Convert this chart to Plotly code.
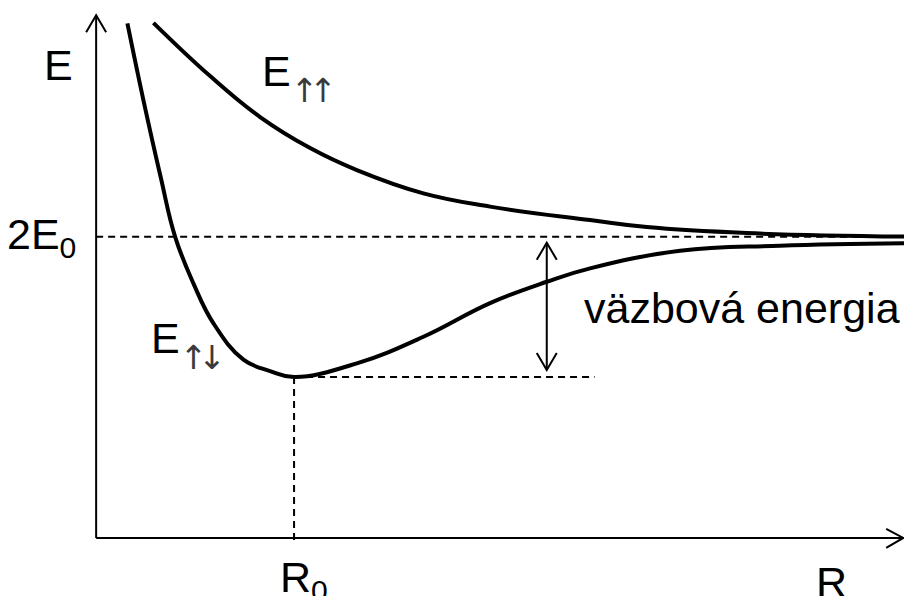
import plotly.graph_objects as go

# Potential energy of two atoms vs. separation R (arbitrary units)
r_bond = [0.387, 0.585, 0.798, 0.978, 1.204, 1.452, 1.823, 2.153, 2.450,
          3.227, 4.051, 4.876, 5.578, 6.114, 7.228, 8.465, 10.0]
e_bond = [9.841, 8.375, 6.908, 5.761, 4.870, 4.105, 3.413, 3.193, 3.078,
          3.340, 3.849, 4.493, 4.901, 5.157, 5.493, 5.589, 5.635]

r_anti = [0.709, 1.411, 2.030, 2.649, 3.227, 4.051, 4.876, 6.114, 6.816, 8.053, 10.0]
e_anti = [9.853, 8.834, 8.050, 7.457, 7.036, 6.591, 6.338, 6.080, 5.946, 5.832, 5.765]

r0 = 2.450          # equilibrium separation
e_min = 3.078       # energy at the minimum
e_level = 5.761     # 2E0, separated atoms
r_arrow = 5.578     # where the binding-energy arrow is drawn
r_dash_end = 6.17   # end of the dashed line at the minimum
r_max = 10.0
e_max = 10.0

FONT = "Liberation Sans, Arial, sans-serif"
ARROW_FONT = "DejaVu Sans"
BLACK = "#000000"

fig = go.Figure()
for r, e in ((r_bond, e_bond), (r_anti, e_anti)):
    fig.add_trace(go.Scatter(x=r, y=e, mode="lines",
                             line=dict(color=BLACK, width=4, shape="spline", smoothing=1.2),
                             hoverinfo="skip"))

axis_line = dict(color=BLACK, width=2)
dash_line = dict(color=BLACK, width=2, dash="7px,5px")

shapes = [
    # axes
    dict(type="line", x0=0, x1=0, y0=0, y1=e_max, line=axis_line),
    dict(type="line", x0=0, x1=r_max - 0.01, y0=0, y1=0, line=axis_line),
    # axis arrowheads (open V, pixel-sized)
    dict(type="path", xsizemode="pixel", ysizemode="pixel", xanchor=0, yanchor=e_max,
         path="M -10 -17 L 0 0 L 10 -17", line=axis_line),
    dict(type="path", xsizemode="pixel", ysizemode="pixel", xanchor=r_max - 0.01, yanchor=0,
         path="M -17 9 L 0 0 L -17 -10", line=axis_line),
    # 2E0 level
    dict(type="line", x0=0, x1=r_max, y0=e_level, y1=e_level, line=dash_line),
    # minimum guides
    dict(type="line", x0=r0, x1=r_dash_end, y0=e_min, y1=e_min, line=dash_line),
    dict(type="line", x0=r0, x1=r0, y0=e_min, y1=-0.11, line=dash_line),
    # binding energy double arrow
    dict(type="line", x0=r_arrow, x1=r_arrow, y0=e_level - 0.115, y1=e_min + 0.135,
         line=axis_line),
    dict(type="path", xsizemode="pixel", ysizemode="pixel", xanchor=r_arrow,
         yanchor=e_level - 0.115, path="M -10 -17 L 0 0 L 10 -17", line=axis_line),
    dict(type="path", xsizemode="pixel", ysizemode="pixel", xanchor=r_arrow,
         yanchor=e_min + 0.135, path="M -10 17 L 0 0 L 10 17", line=axis_line),
]


def spin(s):
    # spin arrows as a compact, lowered subscript
    style = (f"font-family:{ARROW_FONT};color:#3a3a3a;font-size:33px;"
             "letter-spacing:-9px;baseline-shift:-7px")
    return f'<sub><span style="{style}">{s}</span></sub>'


txt = dict(family=FONT, size=43, color=BLACK)
annotations = [
    dict(x=-0.464, y=9.04, text="E", xanchor="center", yanchor="middle"),
    dict(x=-0.22, y=e_level, text="2E<sub>0</sub>", xanchor="right", yanchor="middle"),
    dict(x=0.655, y=3.69, text="E" + spin("↑↓"), xanchor="left", yanchor="middle"),
    dict(x=2.03, y=8.79, text="E" + spin("↑↑"), xanchor="left", yanchor="middle"),
    dict(x=r0 + 0.12, y=-0.81, text="R<sub>0</sub>", xanchor="center", yanchor="middle"),
    dict(x=9.10, y=-0.85, text="R", xanchor="center", yanchor="middle"),
    dict(x=6.01, y=4.40, text="väzbová energia", xanchor="left", yanchor="middle"),
]
for a in annotations:
    a.update(xref="x", yref="y", showarrow=False, font=txt)

fig.update_layout(
    width=904, height=596,
    margin=dict(l=0, r=0, t=0, b=0, pad=0),
    paper_bgcolor="white", plot_bgcolor="white",
    showlegend=False,
    xaxis=dict(visible=False, range=[-1.19, 10.0], fixedrange=True),
    yaxis=dict(visible=False, range=[-1.11, 10.29], fixedrange=True),
    shapes=shapes,
    annotations=annotations,
)

fig.write_html("out.html")
